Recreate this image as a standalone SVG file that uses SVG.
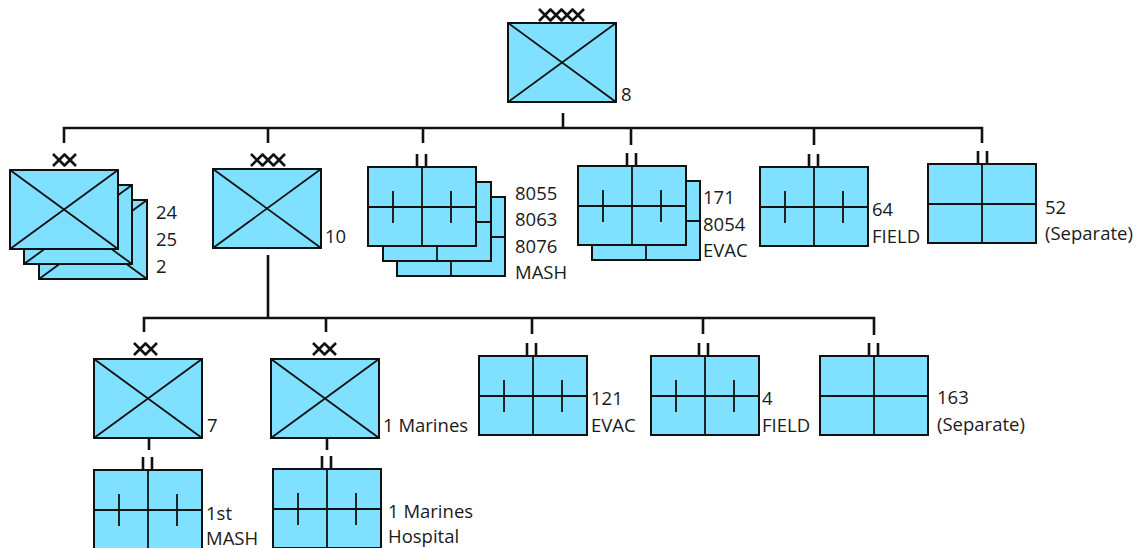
<svg xmlns="http://www.w3.org/2000/svg" xmlns:xlink="http://www.w3.org/1999/xlink" width="1138" height="548" viewBox="0 0 1138 548">
<style>
.box{fill:#80E0FF;stroke:#111;stroke-width:2}
.ln{stroke:#111;stroke-width:1.8;fill:none}
.conn{stroke:#111;stroke-width:2.6;fill:none}
.ech{stroke:#111;stroke-width:2.6;fill:none}
.lbl{font-family:"Open Sans","Liberation Sans",sans-serif;font-size:18.5px;fill:#1a1a1a}
</style>
<defs>
<g id="div"><rect class="box" x="0" y="0" width="108" height="79"/><path class="ln" d="M0,0L108,79M108,0L0,79"/></g>
<g id="med"><rect class="box" x="0" y="0" width="108" height="79"/><path class="ln" d="M54,0V79M0,40H108M25,24V56M83,24V56"/></g>
<g id="sep"><rect class="box" x="0" y="0" width="108" height="79"/><path class="ln" d="M54,0V79M0,40H108"/></g>
<path id="x1" d="M0,0L12,12M12,0L0,12"/>
<path id="ii" d="M-5,-13V0M4,-13V0"/>
</defs>

<g id="connectors">
<path class="conn" d="M563,113V128M64,143V128H982V143M268,128V143M423,128V143M631,128V145M814,128V145"/>
<path class="conn" d="M268,255V318M144,332V318H874V335M326,318V332M532,318V334M703,318V334"/>
<path class="conn" d="M149,439V450M327,439V450"/>
</g>

<g id="node-8">
<use href="#div" x="508" y="23"/>
<g class="ech"><use href="#x1" x="539" y="9"/><use href="#x1" x="550" y="9"/><use href="#x1" x="561" y="9"/><use href="#x1" x="572" y="9"/></g>
<text class="lbl" x="621" y="101">8</text>
</g>

<g id="node-24-25-2">
<use href="#div" x="39" y="200"/>
<use href="#div" x="24" y="185"/>
<use href="#div" x="10" y="170"/>
<g class="ech"><use href="#x1" x="53" y="154"/><use href="#x1" x="64" y="154"/></g>
<text class="lbl" x="156" y="219">24</text>
<text class="lbl" x="156" y="246">25</text>
<text class="lbl" x="156" y="273">2</text>
</g>

<g id="node-10">
<use href="#div" x="213" y="169"/>
<g class="ech"><use href="#x1" x="251" y="154"/><use href="#x1" x="262" y="154"/><use href="#x1" x="273" y="154"/></g>
<text class="lbl" x="325" y="243">10</text>
</g>

<g id="node-mash">
<use href="#med" x="397" y="197"/>
<use href="#med" x="383" y="182"/>
<use href="#med" x="368" y="167"/>
<use class="ech" href="#ii" x="422" y="167"/>
<text class="lbl" x="515" y="200">8055</text>
<text class="lbl" x="515" y="226">8063</text>
<text class="lbl" x="515" y="253">8076</text>
<text class="lbl" x="515" y="279">MASH</text>
</g>

<g id="node-evac">
<use href="#med" x="592" y="181"/>
<use href="#med" x="578" y="166"/>
<use class="ech" href="#ii" x="632" y="166"/>
<text class="lbl" x="703" y="204">171</text>
<text class="lbl" x="703" y="231">8054</text>
<text class="lbl" x="703" y="257">EVAC</text>
</g>

<g id="node-64">
<use href="#med" x="760" y="167"/>
<use class="ech" href="#ii" x="814" y="167"/>
<text class="lbl" x="872" y="216">64</text>
<text class="lbl" x="872" y="243">FIELD</text>
</g>

<g id="node-52">
<use href="#sep" x="928" y="164"/>
<use class="ech" href="#ii" x="983" y="164"/>
<text class="lbl" x="1045" y="214">52</text>
<text class="lbl" x="1045" y="240">(Separate)</text>
</g>

<g id="node-7">
<use href="#div" x="94" y="359"/>
<g class="ech"><use href="#x1" x="134" y="343"/><use href="#x1" x="145" y="343"/></g>
<text class="lbl" x="207" y="432">7</text>
</g>

<g id="node-1-marines">
<use href="#div" x="271" y="359"/>
<g class="ech"><use href="#x1" x="313" y="343"/><use href="#x1" x="324" y="343"/></g>
<text class="lbl" x="383" y="432">1 Marines</text>
</g>

<g id="node-121">
<use href="#med" x="479" y="356"/>
<use class="ech" href="#ii" x="532" y="356"/>
<text class="lbl" x="591" y="405">121</text>
<text class="lbl" x="591" y="432">EVAC</text>
</g>

<g id="node-4">
<use href="#med" x="651" y="356"/>
<use class="ech" href="#ii" x="704" y="356"/>
<text class="lbl" x="762" y="405">4</text>
<text class="lbl" x="762" y="432">FIELD</text>
</g>

<g id="node-163">
<use href="#sep" x="820" y="356"/>
<use class="ech" href="#ii" x="874" y="356"/>
<text class="lbl" x="937" y="404">163</text>
<text class="lbl" x="937" y="431">(Separate)</text>
</g>

<g id="node-1st-mash">
<use href="#med" x="94" y="470"/>
<use class="ech" href="#ii" x="148" y="470"/>
<text class="lbl" x="206" y="520">1st</text>
<text class="lbl" x="206" y="545">MASH</text>
</g>

<g id="node-1-marines-hospital">
<use href="#med" x="273" y="469"/>
<use class="ech" href="#ii" x="327" y="469"/>
<text class="lbl" x="388" y="518">1 Marines</text>
<text class="lbl" x="388" y="543">Hospital</text>
</g>
</svg>
